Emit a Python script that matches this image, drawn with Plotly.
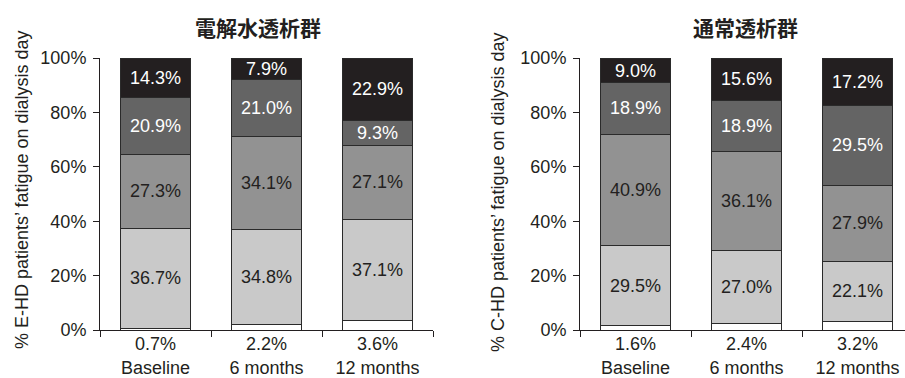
import plotly.graph_objects as go

categories = ["Baseline", "6 months", "12 months"]

# Fatigue level shares (%), bottom to top of each stack
ehd_level1 = [0.7, 2.2, 3.6]
ehd_level2 = [36.7, 34.8, 37.1]
ehd_level3 = [27.3, 34.1, 27.1]
ehd_level4 = [20.9, 21.0, 9.3]
ehd_level5 = [14.3, 7.9, 22.9]

chd_level1 = [1.6, 2.4, 3.2]
chd_level2 = [29.5, 27.0, 22.1]
chd_level3 = [40.9, 36.1, 27.9]
chd_level4 = [18.9, 18.9, 29.5]
chd_level5 = [9.0, 15.6, 17.2]

y_ticks = [0, 20, 40, 60, 80, 100]
y_tick_labels = ["0%", "20%", "40%", "60%", "80%", "100%"]

FONT = "Liberation Sans, Arial, sans-serif"
CJK = "Noto Sans CJK JP, sans-serif"
INK = "#231f20"
fills = ["#ffffff", "#c9c9c9", "#929292", "#646464", "#231f20"]
text_colors = [INK, INK, INK, "#ffffff", "#ffffff"]

W, H = 905, 378

fig = go.Figure()


def add_group(levels, xa, ya):
    for i, vals in enumerate(levels):
        fig.add_trace(go.Bar(
            x=categories, y=vals, xaxis=xa, yaxis=ya,
            marker=dict(color=fills[i], line=dict(color="#2a2a2a", width=1)),
            width=0.63,
            text=None if i == 0 else [f"{v:.1f}%" for v in vals],
            textposition="inside", insidetextanchor="middle",
            textfont=dict(family=FONT, size=18, color=text_colors[i]),
            textangle=0, constraintext="none",
            showlegend=False, hoverinfo="skip",
        ))
    # bottom level values printed under the axis
    for c, v in zip(categories, levels[0]):
        fig.add_annotation(x=c, y=0, xref=xa, yref=ya, text=f"{v:.1f}%",
                           showarrow=False, yanchor="top", xanchor="center", yshift=-2,
                           font=dict(family=FONT, size=18, color=INK))


add_group([ehd_level1, ehd_level2, ehd_level3, ehd_level4, ehd_level5], "x", "y")
add_group([chd_level1, chd_level2, chd_level3, chd_level4, chd_level5], "x2", "y2")

y_dom = [1 - 330 / H, 1 - 58 / H]

xaxis_common = dict(
    type="category", showline=True, linecolor=INK, linewidth=1,
    ticks="outside", tickson="boundaries", ticklen=6, tickcolor=INK,
    tickfont=dict(family=FONT, size=18, color=INK), ticklabelstandoff=21,
    showgrid=False, zeroline=False, fixedrange=True, automargin=False,
)
yaxis_common = dict(
    range=[0, 100], tickvals=y_ticks, ticktext=y_tick_labels,
    showline=True, linecolor=INK, linewidth=1,
    ticks="outside", ticklen=6, tickcolor=INK,
    tickfont=dict(family=FONT, size=18, color=INK), ticklabelstandoff=3,
    showgrid=False, zeroline=False, domain=y_dom, automargin=False,
)

fig.update_layout(
    width=W, height=H, margin=dict(l=0, r=0, t=0, b=0, autoexpand=False),
    paper_bgcolor="white", plot_bgcolor="white",
    barmode="stack", bargap=0.37,
    xaxis=dict(domain=[100 / W, 433 / W], range=[-0.5, 2.5], anchor="y", **xaxis_common),
    yaxis=dict(anchor="x", **yaxis_common),
    xaxis2=dict(domain=[580 / W, 1.0], range=[-0.5, 2.5 - 8 / 111], anchor="y2", **xaxis_common),
    yaxis2=dict(anchor="x2", **yaxis_common),
)

# panel titles
for cx, title in [(258, "<b>電解水透析群</b>"), (745, "<b>通常透析群</b>")]:
    fig.add_annotation(x=cx / W, y=1 - 27 / H, xref="paper", yref="paper", text=title,
                       xanchor="center", yanchor="middle", showarrow=False,
                       font=dict(family=CJK, size=21, color=INK))

# y-axis titles
for cx, cy, label in [(22, 190, "% E-HD patients’ fatigue on dialysis day"),
                      (498, 193, "% C-HD patients’ fatigue on dialysis day")]:
    fig.add_annotation(x=cx / W, y=1 - cy / H, xref="paper", yref="paper",
                       text=label, textangle=-90, xanchor="center", yanchor="middle",
                       showarrow=False, font=dict(family=FONT, size=18, color=INK))

fig.write_html("out.html")
